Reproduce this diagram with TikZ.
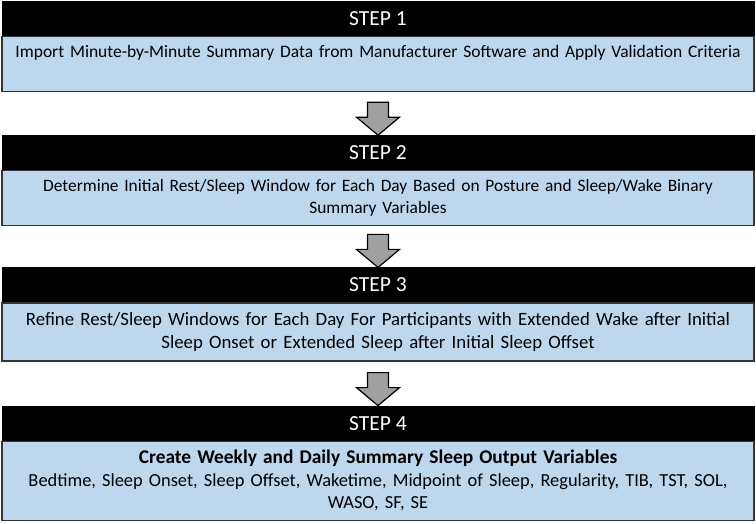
\documentclass[tikz,border=0pt]{standalone}
\usepackage{fontspec}
\setmainfont{Carlito}
\usetikzlibrary{arrows.meta, positioning}
\definecolor{stepblue}{RGB}{189,215,238}
\definecolor{arrowgray}{RGB}{160,160,160}

\begin{document}
\begin{tikzpicture}[x=1pt, y=1pt,
    stephead/.style={draw=black, fill=black, text=white, line width=1pt,
      minimum width=752pt, minimum height=34pt, inner sep=0pt,
      font=\fontsize{21.5}{24}\selectfont},
    stepbody/.style={draw=black!80, fill=stepblue, line width=1.2pt,
      minimum width=752pt, text width=748pt, align=center, inner sep=0pt},
    flowarrow/.style={draw=black, fill=arrowgray, line width=1.2pt, line join=miter}]
  \useasboundingbox (0,0) rectangle (756,-524);

  % Step 1
  \node[stephead, anchor=north] (h1) at (378,-1) {STEP 1};
  \node[stepbody, minimum height=55pt, below=0pt of h1,
        font=\fontsize{17.5}{22}\selectfont] (b1)
    {Import Minute-by-Minute Summary Data from Manufacturer Software and Apply Validation Criteria\\[-3pt] \strut};
  % Step 2
  \node[stephead, below=43pt of b1] (h2) {STEP 2};
  \node[stepbody, minimum height=55pt, below=0pt of h2,
        font=\fontsize{17.4}{22}\selectfont] (b2)
    {Determine Initial Rest/Sleep Window for Each Day Based on Posture and Sleep/Wake Binary\\ Summary Variables};
  % Step 3
  \node[stephead, below=41pt of b2] (h3) {STEP 3};
  \node[stepbody, minimum height=58pt, below=0pt of h3,
        font=\fontsize{18.8}{23}\selectfont] (b3)
    {Refine Rest/Sleep Windows for Each Day For Participants with Extended Wake after Initial\\ Sleep Onset or Extended Sleep after Initial Sleep Offset};
  % Step 4
  \node[stephead, below=44pt of b3] (h4) {STEP 4};
  \node[stepbody, minimum height=79pt, below=0pt of h4,
        font=\fontsize{18.4}{22.5}\selectfont] (b4)
    {{\fontsize{19.4}{22.5}\selectfont\bfseries Create Weekly and Daily Summary Sleep Output Variables}\\
     Bedtime, Sleep Onset, Sleep Offset, Waketime, Midpoint of Sleep, Regularity, TIB, TST, SOL,\\ WASO, SF, SE};

  % Block arrows between steps
  \foreach \s in {2,3,4}
    \draw[flowarrow] (h\s.north) -- ++(-21.5,18) -- ++(11,0) -- ++(0,15)
      -- ++(21,0) -- ++(0,-15) -- ++(11,0) -- cycle;
\end{tikzpicture}
\end{document}
